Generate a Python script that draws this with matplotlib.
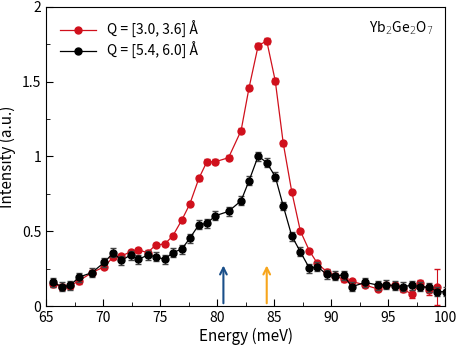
import numpy as np
import matplotlib.pyplot as plt
from matplotlib.ticker import MultipleLocator

plt.rcParams['font.family'] = ['Noto Sans CJK KR', 'DejaVu Sans']
plt.rcParams['font.weight'] = 'light'
plt.rcParams['font.size'] = 10

# energies (meV)
energy = [65.64, 66.4, 67.1, 67.9, 69.0, 70.1, 70.9, 71.6, 72.4, 73.1, 73.9, 74.6,
          75.4, 76.1, 76.9, 77.6, 78.4, 79.1, 79.85, 81.0, 82.1, 82.8, 83.6, 84.35,
          85.1, 85.8, 86.55, 87.3, 88.1, 88.8, 89.6, 90.35, 91.1, 91.8, 93.0, 94.1,
          94.8, 95.6, 96.3, 97.1, 97.8, 98.6, 99.3]

# Q = [3.0, 3.6]
red_I = [0.15, 0.125, 0.135, 0.17, 0.223, 0.263, 0.33, 0.334, 0.363, 0.375, 0.357, 0.408,
         0.415, 0.468, 0.575, 0.682, 0.854, 0.965, 0.965, 0.992, 1.173, 1.46, 1.741, 1.773,
         1.505, 1.088, 0.763, 0.502, 0.368, 0.285, 0.23, 0.203, 0.178, 0.165, 0.14, 0.114,
         0.138, 0.138, 0.112, 0.08, 0.152, 0.107, 0.129]
red_err = [0.02, 0.02, 0.02, 0.02, 0.015, 0.015, 0.015, 0.015, 0.015, 0.015, 0.015, 0.015,
           0.015, 0.015, 0.015, 0.015, 0.015, 0.015, 0.015, 0.015, 0.015, 0.015, 0.02, 0.02,
           0.02, 0.015, 0.015, 0.015, 0.015, 0.015, 0.015, 0.015, 0.015, 0.015, 0.015, 0.015,
           0.015, 0.015, 0.02, 0.025, 0.02, 0.03, 0.12]

# Q = [5.4, 6.0]
black_E = energy + [100.05]
black_I = [0.158, 0.129, 0.138, 0.194, 0.223, 0.292, 0.357, 0.305, 0.341, 0.312, 0.341, 0.33,
           0.312, 0.357, 0.381, 0.453, 0.544, 0.553, 0.604, 0.633, 0.704, 0.838, 1.003, 0.959,
           0.865, 0.669, 0.468, 0.363, 0.252, 0.263, 0.212, 0.203, 0.207, 0.129, 0.158, 0.14,
           0.142, 0.136, 0.129, 0.14, 0.129, 0.125, 0.096, 0.096]
black_err = [0.03] * 44

arrow_E = [80.55, 84.35]
arrow_colors = ['#1a4f8a', '#f7a51c']

fig = plt.figure(figsize=(4.57, 3.47), dpi=100)
ax = fig.add_axes([0.101, 0.118, 0.873, 0.862])

red = '#d0101c'
ax.errorbar(energy, red_I, yerr=red_err, color=red, lw=0.9, marker='o', ms=5,
            capsize=2, elinewidth=0.8, ecolor=red, zorder=3)
ax.errorbar(black_E, black_I, yerr=black_err, color='black', lw=0.9, marker='o', ms=5,
            capsize=2, elinewidth=0.8, ecolor='#444444', zorder=4)
# legend handles (no error bars)
ax.plot([], [], color=red, lw=0.9, marker='o', ms=5, label='Q = [3.0, 3.6] Å')
ax.plot([], [], color='black', lw=0.9, marker='o', ms=5, label='Q = [5.4, 6.0] Å')

for e, c in zip(arrow_E, arrow_colors):
    ax.annotate('', xy=(e, 0.29), xytext=(e, 0.0),
                arrowprops=dict(arrowstyle='->', color=c, lw=1.5, mutation_scale=12))

ax.text(0.97, 0.93, 'Yb$_2$Ge$_2$O$_7$', transform=ax.transAxes, ha='right', va='center',
        fontsize=10, math_fontfamily='dejavusans')

ax.set_xlim(65, 100)
ax.set_ylim(0, 2)
ax.xaxis.set_major_locator(MultipleLocator(5))
ax.xaxis.set_minor_locator(MultipleLocator(2.5))
ax.yaxis.set_minor_locator(MultipleLocator(0.25))
ax.set_yticks([0, 0.5, 1, 1.5, 2])
ax.set_yticklabels(['0', '0.5', '1', '1.5', '2'])
ax.tick_params(which='both', direction='in', top=False, right=False)
ax.tick_params(which='major', length=5)
ax.tick_params(which='minor', length=3)
ax.set_xlabel('Energy (meV)', fontsize=11, labelpad=2)
ax.set_ylabel('Intensity (a.u.)', fontsize=11, labelpad=4)

ax.legend(loc='upper left', frameon=False, fontsize=10, handlelength=2.6,
          borderaxespad=0.6, labelspacing=0.3)

fig.savefig('out.png', dpi=100)
